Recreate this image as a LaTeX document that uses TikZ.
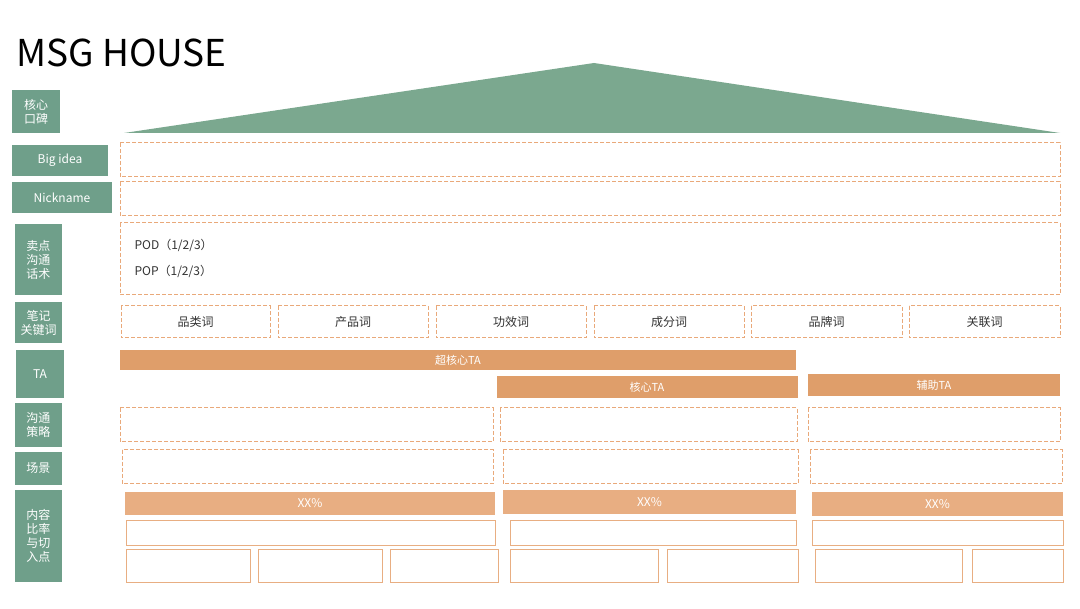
\documentclass[tikz,border=0pt]{standalone}
\usepackage{fontspec}
\setmainfont{Noto Sans CJK SC}
\usetikzlibrary{positioning}
\definecolor{grn}{HTML}{6F9F8A}
\definecolor{roof}{HTML}{7BA88F}
\definecolor{org}{HTML}{DF9E6A}
\definecolor{lorg}{HTML}{E8AE82}
\definecolor{dorg}{HTML}{E9A97A}
\begin{document}
\begin{tikzpicture}[x=1pt,y=-1pt,
  lab/.style={fill=grn,text=white,font=\fontsize{12}{14}\selectfont,align=center,inner sep=0pt},
  dbox/.style={draw=dorg,dashed,line width=1pt,dash pattern=on 4pt off 2pt},
  sbox/.style={draw=lorg,line width=0.9pt},
  bar/.style={fill=org,text=white,font=\fontsize{11}{13}\selectfont,inner sep=0pt},
  lbar/.style={fill=lorg,text=white,font=\fontsize{12}{14}\selectfont,inner sep=0pt},
  kw/.style={font=\fontsize{12}{14}\selectfont,text=black!80}]
\useasboundingbox (0,0) rectangle (1080,609);
\fill[white] (0,0) rectangle (1080,609);
\node[anchor=west,font=\fontsize{37}{40}\selectfont,inner sep=0pt] (title) at (16,53) {MSG HOUSE};
\fill[roof] (124,133) -- (594,63) -- (1060,133) -- cycle;
% left labels
\newcommand\lbl[6]{\path[lab] (#1,#2) rectangle (#3,#4); \node[lab] (#5) at ({(#1+#3)/2},{(#2+#4)/2}) {#6};}
\lbl{12}{90}{60}{133}{l1}{核心\\口碑}
\lbl{12}{145}{108}{176}{l2}{Big idea}
\lbl{12}{182}{112}{213}{l3}{Nickname}
\lbl{15}{224}{62}{295}{l4}{卖点\\沟通\\话术}
\lbl{15}{302}{62}{343}{l5}{笔记\\关键词}
\lbl{16}{350}{64}{398}{l6}{TA}
\lbl{15}{403}{62}{447}{l7}{沟通\\策略}
\lbl{15}{452}{62}{485}{l8}{场景}
\lbl{15}{490}{62}{582}{l9}{内容\\比率\\与切\\入点}
% dashed rows
\draw[dbox] (120,143) rectangle (1060,177);
\draw[dbox] (120,182) rectangle (1060,216);
\draw[dbox] (120,223) rectangle (1060,295);
\node[kw,anchor=west] (pod) at (131,245) {POD（1/2/3）};
\node[kw,anchor=west] (pop) at (131,271) {POP（1/2/3）};
\foreach \a/\b/\t [count=\i] in {121/270/品类词,278/428/产品词,436/586/功效词,594/744/成分词,751/902/品牌词,909/1060/关联词}{
  \draw[dbox] (\a,306) rectangle (\b,338);
  \node[kw] (k\i) at ({(\a+\b)/2},322) {\t};
}
% TA bars
\fill[org] (120,350) rectangle (796,370); \node[bar] (ta1) at (458,360) {超核心TA};
\fill[org] (497,376) rectangle (798,398); \node[bar] (ta2) at (647,387) {核心TA};
\fill[org] (808,374) rectangle (1060,396); \node[bar] (ta3) at (934,385) {辅助TA};
% strategy / scene
\draw[dbox] (120,408) rectangle (493,442);
\draw[dbox] (500,408) rectangle (797,442);
\draw[dbox] (808,408) rectangle (1060,442);
\draw[dbox] (122,450) rectangle (493,484);
\draw[dbox] (503,450) rectangle (798,484);
\draw[dbox] (810,450) rectangle (1062,484);
% XX%
\fill[lorg] (125,492) rectangle (495,515); \node[lbar] (x1) at (310,503.5) {XX\%};
\fill[lorg] (503,490) rectangle (796,514); \node[lbar] (x2) at (649.5,502) {XX\%};
\fill[lorg] (812,492) rectangle (1063,516); \node[lbar] (x3) at (937.5,504) {XX\%};
\draw[sbox] (126,520) rectangle (495,545);
\draw[sbox] (510,520) rectangle (796,545);
\draw[sbox] (812,520) rectangle (1063,545);
\foreach \a/\b in {126/250,258/382,390/498,510/658,667/798,815/962,972/1063}
  \draw[sbox] (\a,549) rectangle (\b,582);
\end{tikzpicture}
\end{document}
